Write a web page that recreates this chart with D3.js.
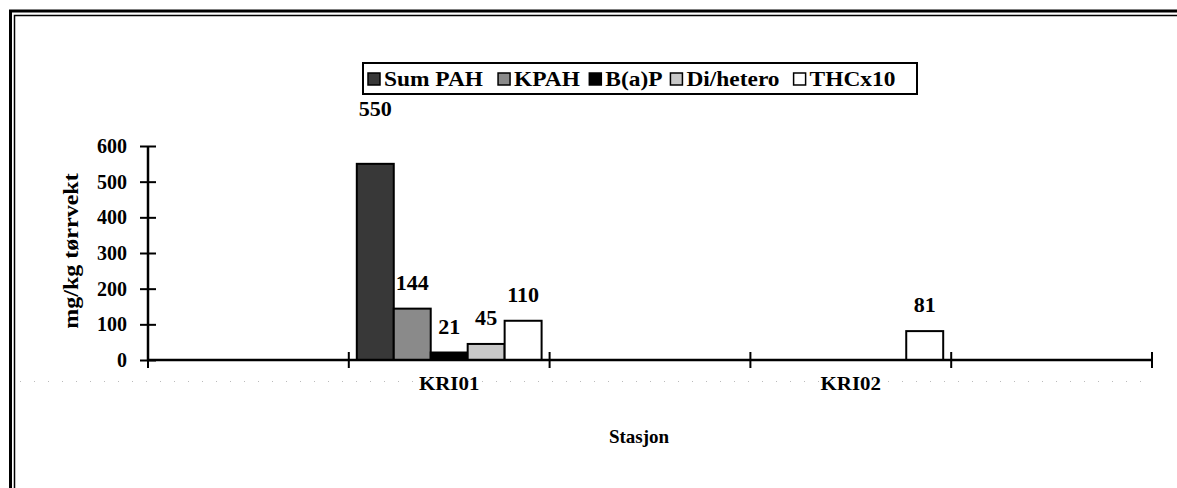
<!DOCTYPE html>
<html><head><meta charset="utf-8">
<script src="https://cdn.jsdelivr.net/npm/d3@7"></script>
<style>body{margin:0;background:#fff}svg text{font-family:"Liberation Serif","Times New Roman",Times,serif;font-weight:bold}</style>
</head><body><svg id="c" width="1177" height="488"></svg>
<script>
const stations = ["", "KRI01", "", "KRI02", ""];
const seriesNames = ["Sum PAH", "KPAH", "B(a)P", "Di/hetero", "THCx10"];
const sumPAH   = [null, 550, null, null, null];
const kpah     = [null, 144, null, null, null];
const bap      = [null, 21,  null, null, null];
const diHetero = [null, 45,  null, null, null];
const thcx10   = [null, 110, null, 81,  null];
const yTicks = [0, 100, 200, 300, 400, 500, 600];
const fills = ["#383838", "#8a8a8a", "#000000", "#c8c8c8", "#ffffff"];

const values = [sumPAH, kpah, bap, diHetero, thcx10];
const svg = d3.select("#c");
const FONT = '"Liberation Serif","Times New Roman",Times,serif';
// widen glyphs slightly (reference was rendered with heavy, wide bitmap glyphs)
function widen(sel, f) {
  sel.each(function () {
    const w = this.getComputedTextLength();
    if (w > 0) d3.select(this).attr("textLength", w * f).attr("lengthAdjust", "spacingAndGlyphs");
  });
  return sel;
}

// frame (double border)
svg.append("path").attr("d","M10.5,488 V11 H1177").attr("fill","none").attr("stroke","#000").attr("stroke-width",3);
svg.append("path").attr("d","M14.5,488 V15.5 H1177").attr("fill","none").attr("stroke","#000").attr("stroke-width",1.5);

const pLeft = 148, pRight = 1152, pTop = 146, pBottom = 360;
const x0 = d3.scaleBand().domain(d3.range(stations.length)).range([pLeft, pRight]).padding(0);
const x1 = d3.scaleBand().domain(seriesNames).range([8, x0.bandwidth() - 8]).padding(0);
const y = d3.scaleLinear().domain([0, 600]).range([pBottom, pTop]);

// faint dotted line of empty labels
svg.append("line").attr("x1",20).attr("x2",1150).attr("y1",381.5).attr("y2",381.5)
  .attr("stroke","#bbb").attr("stroke-width",1).attr("stroke-dasharray","1,13");

// bars
seriesNames.forEach((s, si) => {
  const g = svg.append("g");
  values[si].forEach((v, ci) => {
    if (v == null) return;
    const bx = x0(ci) + x1(s);
    g.append("rect").attr("x", bx).attr("y", y(v)).attr("width", x1.bandwidth()).attr("height", y(0) - y(v))
      .attr("fill", fills[si]).attr("stroke", "#000").attr("stroke-width", 2);
    const ly = v > 500 ? y(600) - 30 : y(v) - 19;
    const t = g.append("text").attr("x", bx + x1.bandwidth() / 2).attr("y", ly).attr("text-anchor","middle")
      .attr("font-size", 21).attr("font-family", FONT).text(v);
    widen(t, 1.05);
  });
});

// y axis
const yAx = svg.append("g").attr("transform", `translate(${pLeft},0)`)
  .call(d3.axisLeft(y).tickValues(yTicks).tickSize(8).tickPadding(13));
yAx.attr("font-family", FONT);
yAx.select(".domain").attr("stroke-width", 2.5).attr("d", `M0,${pTop}V${pBottom}`);
yAx.selectAll(".tick line").attr("x1", 8).attr("x2", -8).attr("stroke-width", 2);
yAx.selectAll(".tick text").attr("font-size", 20).attr("font-family", FONT).attr("font-weight","bold").attr("fill","#000");

// x axis
const xAx = svg.append("g").attr("transform", `translate(0,${pBottom})`)
  .call(d3.axisBottom(x0).tickSize(0).tickPadding(17).tickFormat(i => stations[i]));
xAx.attr("font-family", FONT);
xAx.select(".domain").attr("stroke-width", 2.5).attr("d", `M${pLeft},0H${pRight}`);
widen(xAx.selectAll(".tick text").attr("font-size", 19).attr("font-family", FONT).attr("font-weight","bold").attr("fill","#000"), 1.1);
const bounds = d3.range(stations.length + 1).map(i => i < stations.length ? x0(i) : pRight);
xAx.selectAll(".bt").data(bounds).join("line").attr("x1", d => d).attr("x2", d => d)
  .attr("y1", -8).attr("y2", 8).attr("stroke", "#000").attr("stroke-width", 2);

// axis titles
widen(svg.append("text").attr("transform", `translate(78,251) rotate(-90)`).attr("text-anchor","middle")
  .attr("font-size", 20).attr("font-family", FONT).text("mg/kg tørrvekt"), 1.2);
widen(svg.append("text").attr("x", 639).attr("y", 443).attr("text-anchor","middle").attr("font-size", 19).attr("font-family", FONT).text("Stasjon"), 1.0);

// legend
const lg = svg.append("g");
const lgX = 363, lgW = 554;
lg.append("rect").attr("x", lgX).attr("y", 63).attr("width", lgW).attr("height", 31)
  .attr("fill","#fff").attr("stroke","#000").attr("stroke-width",2);
const items = seriesNames.map((s, si) => {
  const it = lg.append("g");
  it.append("rect").attr("x", 0).attr("y", 73).attr("width", 12).attr("height", 12)
    .attr("fill", fills[si]).attr("stroke","#000").attr("stroke-width",1.5);
  const t = it.append("text").attr("x", 16).attr("y", 86).attr("font-size", 20).attr("font-family", FONT).text(s);
  widen(t, 1.17);
  return {g: it, w: 16 + t.node().getComputedTextLength() * 1.17};
});
const totalW = d3.sum(items, d => d.w);
const gap = (lgW - 12 - totalW) / (items.length - 1);
let lx = lgX + 5;
items.forEach(d => { d.g.attr("transform", `translate(${lx},0)`); lx += d.w + gap; });
</script></body></html>
